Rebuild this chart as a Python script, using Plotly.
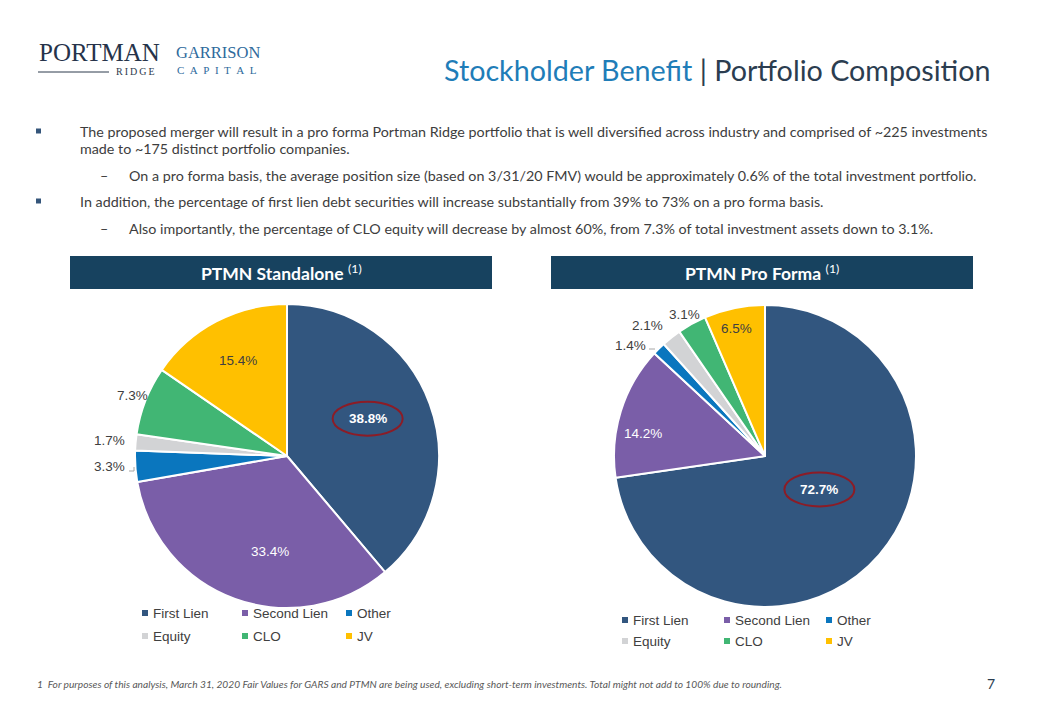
import math
import plotly.graph_objects as go

W, H = 1040, 720

# ---------------- data ----------------
categories = ["First Lien", "Second Lien", "Other", "Equity", "CLO", "JV"]
colors = ["#32567F", "#7A5EA8", "#0A76BE", "#D2D3D5", "#41B674", "#FFC000"]
standalone_values = [38.8, 33.4, 3.3, 1.7, 7.3, 15.4]
proforma_values = [72.7, 14.2, 1.4, 2.1, 3.1, 6.5]

title_blue = "Stockholder Benefit"
title_dark = "Portfolio Composition"
header_left = "PTMN Standalone"
header_right = "PTMN Pro Forma"
bullets = [
    (0, "The proposed merger will result in a pro forma Portman Ridge portfolio that is well diversified across industry and comprised of ~225 investments"),
    (-1, "made to ~175 distinct portfolio companies."),
    (1, "On a pro forma basis, the average position size (based on 3/31/20 FMV) would be approximately 0.6% of the total investment portfolio."),
    (0, "In addition, the percentage of first lien debt securities will increase substantially from 39% to 73% on a pro forma basis."),
    (1, "Also importantly, the percentage of CLO equity will decrease by almost 60%, from 7.3% of total investment assets down to 3.1%."),
]
footnote = "1  For purposes of this analysis, March 31, 2020 Fair Values for GARS and PTMN are being used, excluding short-term investments. Total might not add to 100% due to rounding."
page_number = "7"


def px(x):
    return x / W


def py(y):
    return 1 - y / H


BODY_FONT = "Lato, Open Sans, sans-serif"
ARIAL = "Arial, Liberation Sans, sans-serif"
TEXT = "#3D3D3D"
LABEL = "#404040"

fig = go.Figure()
annotations = []
shapes = []

# ---------------- pies ----------------
pies = [
    dict(values=standalone_values, cx=287, cy=456, r=152),
    dict(values=proforma_values, cx=765, cy=456, r=151),
]
for p in pies:
    fig.add_trace(go.Pie(
        labels=categories, values=p["values"], sort=False, direction="clockwise",
        rotation=0, textinfo="none", showlegend=False,
        marker=dict(colors=colors, line=dict(color="white", width=2)),
        domain=dict(x=[px(p["cx"] - p["r"]), px(p["cx"] + p["r"])],
                    y=[py(p["cy"] + p["r"]), py(p["cy"] - p["r"])]),
    ))


def label_pos(p, i, rfrac):
    vals = p["values"]
    tot = sum(vals)
    start = sum(vals[:i]) / tot
    mid = (start + vals[i] / tot / 2) * 2 * math.pi
    rr = p["r"] * rfrac
    return p["cx"] + rr * math.sin(mid), p["cy"] - rr * math.cos(mid)


# (index, radius fraction, xanchor, xshift, yshift, color)
label_specs = [
    [(0, 0.60, "center", -5, 6, "white"),
     (1, 0.63, "center", 16, -6, "white"),
     (2, 1.10, "right", 7, 1, LABEL),
     (3, 1.10, "right", 7, 1, LABEL),
     (4, 1.10, "center", 1, 0, LABEL),
     (5, 0.71, "center", 1, 0, LABEL)],
    [(0, 0.45, "center", 3, 11, "white"),
     (1, 0.82, "center", -4, -14, "white"),
     (2, 1.12, "right", 2, -10, LABEL),
     (3, 1.12, "right", 5, -2, LABEL),
     (4, 1.12, "center", 1, -6, LABEL),
     (5, 0.86, "center", -2, 0, LABEL)],
]
for p, specs in zip(pies, label_specs):
    for (i, rf, xa, xs, ys, col) in specs:
        lx, ly = label_pos(p, i, rf)
        txt = f"{p['values'][i]:.1f}%"
        if i == 0:
            txt = f"<b>{txt}</b>"
        annotations.append(dict(
            x=px(lx), y=py(ly), xref="paper", yref="paper", showarrow=False,
            text=txt, xanchor=xa, yanchor="middle",
            xshift=xs, yshift=ys, font=dict(family=ARIAL, size=13.5, color=col)))
        if i == 0:
            ex, ey = lx + xs, ly - ys
            shapes.append(dict(type="circle", xref="paper", yref="paper",
                               x0=px(ex - 35), x1=px(ex + 35), y0=py(ey + 17), y1=py(ey - 17),
                               line=dict(color="#8C1C26", width=2)))

# small leader lines
shapes.append(dict(type="path", xref="paper", yref="paper",
                   path=f"M {px(129)},{py(471)} L {px(134)},{py(471)} L {px(134)},{py(467)}",
                   line=dict(color="#A6A6A6", width=1)))
shapes.append(dict(type="path", xref="paper", yref="paper",
                   path=f"M {px(649)},{py(349)} L {px(655)},{py(349)}",
                   line=dict(color="#A6A6A6", width=1)))

# ---------------- legends ----------------
legend_layouts = [
    dict(cols=[145, 245, 349], rows=[613, 636]),
    dict(cols=[625, 727, 829], rows=[620, 641]),
]
for lg in legend_layouts:
    for k, (cat, col) in enumerate(zip(categories, colors)):
        cx = lg["cols"][k % 3]
        cy = lg["rows"][k // 3]
        shapes.append(dict(type="rect", xref="paper", yref="paper",
                           x0=px(cx - 3), x1=px(cx + 3), y0=py(cy + 3), y1=py(cy - 3),
                           fillcolor=col, line=dict(width=0)))
        annotations.append(dict(x=px(cx + 6), y=py(cy), xref="paper", yref="paper",
                                showarrow=False, xanchor="left", yanchor="middle",
                                text=cat, font=dict(family=ARIAL, size=13.5, color=LABEL)))

# ---------------- header bars ----------------
for x0, x1, txt in [(70, 492, header_left), (551, 973, header_right)]:
    shapes.append(dict(type="rect", xref="paper", yref="paper",
                       x0=px(x0), x1=px(x1), y0=py(289), y1=py(256),
                       fillcolor="#17425F", line=dict(width=0)))
    annotations.append(dict(x=px((x0 + x1) / 2), y=py(272), xref="paper", yref="paper",
                            showarrow=False, xanchor="center", yanchor="middle",
                            text=f"<b>{txt}</b> <sup>(1)</sup>",
                            font=dict(family=BODY_FONT, size=17.5, color="white")))

# ---------------- title ----------------
annotations.append(dict(
    x=px(992), y=py(70), xref="paper", yref="paper", showarrow=False,
    xanchor="right", yanchor="middle",
    text=f"<span style='color:#1F7DB8'>{title_blue}</span> | {title_dark}",
    font=dict(family=BODY_FONT, size=28.7, color="#2B3D50")))

# ---------------- logos ----------------
annotations.append(dict(x=px(37), y=py(53), xref="paper", yref="paper", showarrow=False,
                        xanchor="left", yanchor="middle", text="PORTMAN",
                        font=dict(family="Liberation Serif, serif", size=25, color="#26334A")))
shapes.append(dict(type="line", xref="paper", yref="paper",
                   x0=px(38), x1=px(109), y0=py(72), y1=py(72),
                   line=dict(color="#2D3A4D", width=1)))
annotations.append(dict(x=px(114), y=py(72), xref="paper", yref="paper", showarrow=False,
                        xanchor="left", yanchor="middle", text="R\u2009I\u2009D\u2009G\u2009E",
                        font=dict(family="Liberation Serif, serif", size=10, color="#2D3A4D")))
annotations.append(dict(x=px(174), y=py(53), xref="paper", yref="paper", showarrow=False,
                        xanchor="left", yanchor="middle", text="GARRISON",
                        font=dict(family="Liberation Serif, serif", size=16.5, color="#2E6A9C")))
annotations.append(dict(x=px(175), y=py(70), xref="paper", yref="paper", showarrow=False,
                        xanchor="left", yanchor="middle",
                        text="C\u2002A\u2002P\u2002I\u2002T\u2002A\u2002L",
                        font=dict(family="Liberation Serif, serif", size=11, color="#2E6A9C")))

# ---------------- bullets ----------------
bullet_ys = [131, 149, 175, 201, 228]
for (lvl, txt), y in zip(bullets, bullet_ys):
    if lvl == 0:
        shapes.append(dict(type="rect", xref="paper", yref="paper",
                           x0=px(36), x1=px(41), y0=py(y + 2.5), y1=py(y - 2.5),
                           fillcolor="#34557A", line=dict(width=0)))
        tx = 78
    elif lvl == 1:
        annotations.append(dict(x=px(104), y=py(y), xref="paper", yref="paper", showarrow=False,
                                xanchor="center", yanchor="middle", text="\u2013",
                                font=dict(family=BODY_FONT, size=14.3, color=TEXT)))
        tx = 127
    else:
        tx = 78
    annotations.append(dict(x=px(tx), y=py(y), xref="paper", yref="paper", showarrow=False,
                            xanchor="left", yanchor="middle", text=txt,
                            font=dict(family=BODY_FONT, size=14.3, color=TEXT)))

# ---------------- footnote & page ----------------
annotations.append(dict(x=px(35), y=py(684), xref="paper", yref="paper", showarrow=False,
                        xanchor="left", yanchor="middle", text=f"<i>{footnote}</i>",
                        font=dict(family=BODY_FONT, size=10.2, color="#595959")))
annotations.append(dict(x=px(991), y=py(683), xref="paper", yref="paper", showarrow=False,
                        xanchor="center", yanchor="middle", text=page_number,
                        font=dict(family=BODY_FONT, size=14, color="#2B3D50")))

fig.update_layout(
    width=W, height=H, margin=dict(l=0, r=0, t=0, b=0),
    paper_bgcolor="white", plot_bgcolor="white",
    annotations=annotations, shapes=shapes,
)
fig.write_html("out.html", config={"displayModeBar": False},
               post_script="document.body.style.margin='0px';")
